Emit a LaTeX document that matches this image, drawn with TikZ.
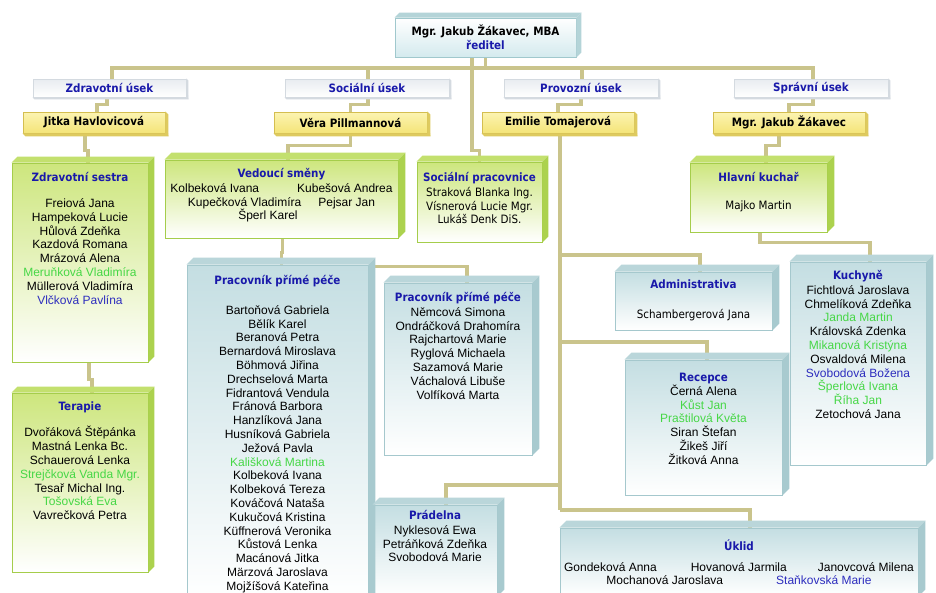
\documentclass[tikz,border=0pt]{standalone}
\usepackage{fontspec}
\setmainfont{Liberation Sans}
\newfontfamily\headfont{DejaVu Sans Condensed}
\usetikzlibrary{backgrounds}
\definecolor{link_khaki}{RGB}{202,196,140}
\definecolor{text_blue}{RGB}{25,25,170}
\definecolor{name_green}{RGB}{70,215,70}
\definecolor{name_blue}{RGB}{45,45,190}
\definecolor{node_chief}{RGB}{212,234,238}
\definecolor{edge_chief}{RGB}{160,200,205}
\definecolor{face_chief}{RGB}{180,212,216}
\definecolor{node_usek}{RGB}{232,236,240}
\definecolor{edge_usek}{RGB}{212,218,224}
\definecolor{node_yellow}{RGB}{244,228,120}
\definecolor{node_yellow_top}{RGB}{252,244,178}
\definecolor{edge_yellow}{RGB}{212,190,80}
\definecolor{face_yellow}{RGB}{222,202,95}
\definecolor{node_green}{RGB}{205,230,125}
\definecolor{edge_green}{RGB}{165,205,75}
\definecolor{face_green}{RGB}{195,224,110}
\definecolor{side_green}{RGB}{172,210,78}
\definecolor{node_blue}{RGB}{196,222,226}
\definecolor{edge_blue}{RGB}{165,200,205}
\definecolor{face_blue}{RGB}{186,214,218}
\definecolor{side_blue}{RGB}{168,202,207}

% top and right face of a box
\newcommand{\boxup}[4]{%
  \fill[#3] (#1.north west) -- ([shift={(#2pt,#2pt)}]#1.north west) -- ([shift={(#2pt,#2pt)}]#1.north east) -- (#1.north east) -- cycle;
  \fill[#4] (#1.north east) -- ([shift={(#2pt,#2pt)}]#1.north east) -- ([shift={(#2pt,#2pt)}]#1.south east) -- (#1.south east) -- cycle;}
% bottom and right face of a box
\newcommand{\boxdown}[3]{%
  \fill[#3] (#1.south west) -- ([shift={(#2pt,-#2pt)}]#1.south west) -- ([shift={(#2pt,-#2pt)}]#1.south east) -- (#1.north east) -- (#1.south east) -- cycle;
  \fill[#3] (#1.north east) -- ([shift={(#2pt,-#2pt)}]#1.north east) -- ([shift={(#2pt,-#2pt)}]#1.south east) -- (#1.south east) -- cycle;}
\newcommand{\unithd}[1]{{\headfont\bfseries\fontsize{11.5}{13.8}\selectfont\color{text_blue}#1}}
\newcommand{\tahoma}[1]{{\headfont\fontsize{11.5}{13.8}\selectfont #1}}
\newcommand{\gn}[1]{\textcolor{name_green}{#1}}
\newcommand{\bn}[1]{\textcolor{name_blue}{#1}}

\begin{document}
\begin{tikzpicture}[x=1pt,y=-1pt]
    \tikzstyle{link}=[draw=link_khaki, line width=3.2pt]
    \tikzstyle{chief}=[draw=edge_chief, line width=0.8pt, top color=white, bottom color=node_chief, inner sep=0pt, align=center, font=\headfont\bfseries\fontsize{11.5}{14}\selectfont]
    \tikzstyle{usek}=[draw=edge_usek, line width=0.8pt, top color=node_usek, bottom color=white, minimum height=18, inner sep=0pt, text=text_blue, font=\headfont\bfseries\fontsize{11.5}{13}\selectfont]
    \tikzstyle{boss}=[draw=edge_yellow, line width=0.8pt, top color=node_yellow_top, bottom color=node_yellow, minimum height=21, inner sep=0pt, font=\headfont\bfseries\fontsize{11.5}{13}\selectfont]
    \tikzstyle{greenbox}=[draw=edge_green, line width=0.8pt, top color=node_green, bottom color=white, inner sep=0pt]
    \tikzstyle{bluebox}=[draw=edge_blue, line width=0.8pt, top color=node_blue, bottom color=white, inner sep=0pt]
    \tikzstyle{names}=[inner sep=0pt, anchor=north, align=center, font=\fontsize{12}{13.8}\selectfont]

    \useasboundingbox (0,0) rectangle (936,592);

    \node[chief, minimum width=181, minimum height=39] (chief) at (485.5,37.5) {Mgr. Jakub Žákavec, MBA\\\textcolor{text_blue}{ředitel}};
    \boxup{chief}{5}{face_chief}{face_chief}

    \node[usek, minimum width=153] (zu)  at (109.5,88) {Zdravotní úsek};
    \node[usek, minimum width=164] (su)  at (367,88)   {Sociální úsek};
    \node[usek, minimum width=154] (pu)  at (581,88)   {Provozní úsek};
    \node[usek, minimum width=154] (spu) at (811,88)   {Správní úsek};
    \boxdown{zu}{2}{edge_usek}
    \boxdown{su}{2}{edge_usek}
    \boxdown{pu}{2}{edge_usek}
    \boxdown{spu}{2}{edge_usek}

    \node[boss, minimum width=142] (jh) at (94,122.5)    {Jitka Havlovicová};
    \node[boss, minimum width=153] (vp) at (350.5,122.5) {Věra Pillmannová};
    \node[boss, minimum width=152] (et) at (558,122.5)   {Emilie Tomajerová};
    \node[boss, minimum width=152] (mj) at (789,122.5)   {Mgr. Jakub Žákavec};
    \boxdown{jh}{3}{face_yellow}
    \boxdown{vp}{3}{face_yellow}
    \boxdown{et}{3}{face_yellow}
    \boxdown{mj}{3}{face_yellow}

    % green boxes
    \node[greenbox, minimum width=136, minimum height=199] (zs) at (80,262.5)    {};
    \node[greenbox, minimum width=136, minimum height=179] (te) at (80,482.5)    {};
    \node[greenbox, minimum width=233, minimum height=78]  (vs) at (281.5,199)   {};
    \node[greenbox, minimum width=125, minimum height=80]  (sp) at (479.5,202)   {};
    \node[greenbox, minimum width=137, minimum height=69]  (hk) at (758.5,197.5) {};
    \boxup{zs}{6}{face_green}{side_green}
    \boxup{te}{6}{face_green}{side_green}
    \boxup{vs}{7}{face_green}{side_green}
    \boxup{sp}{6}{face_green}{side_green}
    \boxup{hk}{7}{face_green}{side_green}

    % blue boxes
    \node[bluebox, minimum width=181, minimum height=335] (p1) at (277.5,432.5) {};
    \node[bluebox, minimum width=148, minimum height=172] (p2) at (458,369)     {};
    \node[bluebox, minimum width=157, minimum height=58]  (ad) at (693.5,301)   {};
    \node[bluebox, minimum width=136, minimum height=203] (ku) at (858,363.5)   {};
    \node[bluebox, minimum width=157, minimum height=135] (re) at (703.5,427.5) {};
    \node[bluebox, minimum width=124, minimum height=91]  (pr) at (435,550.5)   {};
    \node[bluebox, minimum width=358, minimum height=68]  (uk) at (739,562)     {};
    \boxup{p1}{7}{face_blue}{side_blue}
    \boxup{p2}{7}{face_blue}{side_blue}
    \boxup{ad}{7}{face_blue}{side_blue}
    \boxup{ku}{7}{face_blue}{side_blue}
    \boxup{re}{7}{face_blue}{side_blue}
    \boxup{pr}{7}{face_blue}{side_blue}
    \boxup{uk}{7}{face_blue}{side_blue}

    % texts
    \node[names] (zs-t) at (80,172) {\unithd{Zdravotní sestra}\\[12.2pt]
      Freiová Jana\\ Hampeková Lucie\\ Hůlová Zdeňka\\ Kazdová Romana\\ Mrázová Alena\\
      \gn{Meruňková Vladimíra}\\ Müllerová Vladimíra\\ \bn{Vlčková Pavlína}};
    \node[names] (te-t) at (80,402) {\unithd{Terapie}\\[12.2pt]
      Dvořáková Štěpánka\\ Mastná Lenka Bc.\\ Schauerová Lenka\\ \gn{Strejčková Vanda Mgr.}\\
      Tesař Michal Ing.\\ \gn{Tošovská Eva}\\ Vavrečková Petra};
    \node[names] (vs-t) at (281.5,168) {\unithd{Vedoucí směny}\\[1pt]
      Kolbeková Ivana\hspace{38pt}Kubešová Andrea\\
      Kupečková Vladimíra\hspace{17pt}Pejsar Jan\\
      Šperl Karel\hspace*{27pt}};
    \node[names] (sp-t) at (479.5,172) {\unithd{Sociální pracovnice}\\[1pt]
      \tahoma{Straková Blanka Ing.}\\ \tahoma{Vísnerová Lucie Mgr.}\\ \tahoma{Lukáš Denk DiS.}};
    \node[names] (hk-t) at (758.5,172) {\unithd{Hlavní kuchař}\\[14pt] \tahoma{Majko Martin}};
    \node[names] (p1-t) at (277.5,275) {\unithd{Pracovník přímé péče}\\[16pt]
      Bartoňová Gabriela\\ Bělík Karel\\ Beranová Petra\\ Bernardová Miroslava\\ Böhmová Jiřina\\
      Drechselová Marta\\ Fidrantová Vendula\\ Fránová Barbora\\ Hanzlíková Jana\\ Husníková Gabriela\\
      Ježová Pavla\\ \gn{Kališková Martina}\\ Kolbeková Ivana\\ Kolbeková Tereza\\ Kováčová Nataša\\
      Kukučová Kristina\\ Küffnerová Veronika\\ Kůstová Lenka\\ Macánová Jitka\\ Märzová Jaroslava\\
      Mojžíšová Kateřina};
    \node[names] (p2-t) at (458,292) {\unithd{Pracovník přímé péče}\\[1pt]
      Němcová Simona\\ Ondráčková Drahomíra\\ Rajchartová Marie\\ Ryglová Michaela\\
      Sazamová Marie\\ Váchalová Libuše\\ Volfíková Marta};
    \node[names] (ad-t) at (693.5,280) {\unithd{Administrativa}\\[16pt] \tahoma{Schambergerová Jana}};
    \node[names] (ku-t) at (858,270) {\unithd{Kuchyně}\\[1pt]
      Fichtlová Jaroslava\\ Chmelíková Zdeňka\\ \gn{Janda Martin}\\ Královská Zdenka\\
      \gn{Mikanová Kristýna}\\ Osvaldová Milena\\ \bn{Svobodová Božena}\\ \gn{Šperlová Ivana}\\
      \gn{Říha Jan}\\ Zetochová Jana};
    \node[names] (re-t) at (703.5,373) {\unithd{Recepce}\\
      Černá Alena\\ \gn{Kůst Jan}\\ \gn{Praštilová Květa}\\ Siran Štefan\\ Žikeš Jiří\\ Žitková Anna};
    \node[names] (pr-t) at (435,510) {\unithd{Prádelna}\\[1pt]
      Nyklesová Ewa\\ Petráňková Zdeňka\\ Svobodová Marie};
    \node[names] (uk-t) at (739,540) {\unithd{Úklid}\\[7pt]
      Gondeková Anna\hspace{34pt}Hovanová Jarmila\hspace{31pt}Janovcová Milena\\[-1pt]
      Mochanová Jaroslava\hspace{53pt}\bn{Staňkovská Marie}};

    % connectors
    \begin{scope}[on background layer]
      \fill[white] (0,0) rectangle (936,592);
      \coordinate (bus) at (485.5,68);
      \draw[link] (chief.south) -- (bus);
      \draw[link] (bus) -| ([xshift=2.5pt]zu.north);
      \draw[link] (bus) -| ([xshift=1pt]su.north);
      \draw[link] (bus) -| ([xshift=1pt]pu.north);
      \draw[link] (bus) -| ([xshift=2pt]spu.north);
      \draw[link] ([xshift=-13.5pt]chief.south) -- ++(0,93) -| (sp.north);

      \draw[link] ([xshift=-2.5pt]zu.south) -- ++(0,7) -| ([xshift=3pt]jh.north);
      \draw[link] ([xshift=1pt]su.south) -- ++(0,7) -| (vp.north);
      \draw[link] (pu.south) -- ++(0,7) -| (et.north);
      \draw[link] ([xshift=2pt]spu.south) -- ++(0,7) -| (mj.north);

      \draw[link] ([xshift=-9pt]jh.south) -- ++(0,17) -| ([xshift=8pt]zs.north);
      \draw[link] ([xshift=9pt]zs.south) -- ++(0,17) -| ([xshift=12pt]te.north);
      \draw[link] (vp.south) -- ++(0,12) -| ([xshift=6.5pt]vs.north);
      \draw[link] ([xshift=1pt]vs.south) -- ++(0,14) -| ([xshift=4pt]p1.north);
      \draw[link] ([xshift=4pt,yshift=-2pt]p1.north) -| ([xshift=9pt]p2.north);

      \coordinate (e1) at (560,255);
      \coordinate (e2) at (560,342);
      \coordinate (e3) at (560,485);
      \coordinate (e4) at (560,510);
      \draw[link] ([xshift=2pt]et.south) -- (e4);
      \draw[link] (e1) -| ([xshift=6.5pt]ad.north);
      \draw[link] (e2) -| ([xshift=3.5pt]re.north);
      \draw[link] (e3) -| ([xshift=11pt]pr.north);
      \draw[link] (e4) -| ([xshift=11pt]uk.north);

      \draw[link] ([xshift=-10pt]mj.south) -- ++(0,12) -| ([xshift=7.5pt]hk.north);
      \draw[link] ([xshift=1.5pt]hk.south) -- ++(0,10) -| ([xshift=12pt]ku.north);
    \end{scope}
\end{tikzpicture}
\end{document}
